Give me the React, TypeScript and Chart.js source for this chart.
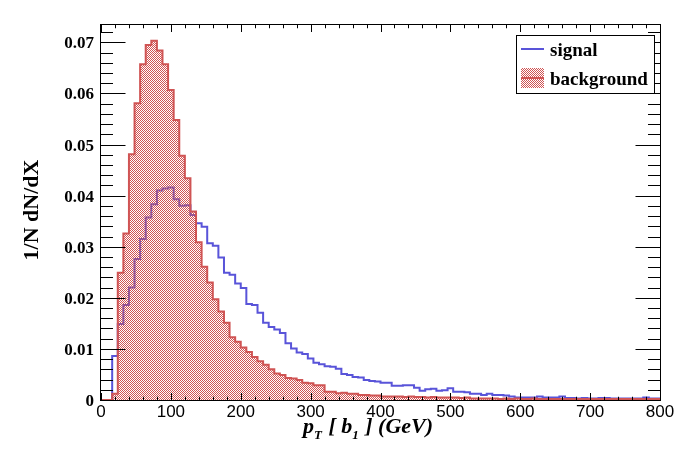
import { useEffect, useRef } from "react";
import { Chart, registerables } from "chart.js";

Chart.register(...registerables);

// ---- data ----
const binEdges = [
  0, 8, 16, 24, 32, 40, 48, 56, 64, 72, 80, 88, 96, 104, 112, 120, 128, 136, 144, 152,
  160, 168, 176, 184, 192, 200, 208, 216, 224, 232, 240, 248, 256, 264, 272, 280, 288, 296, 304, 312,
  320, 328, 336, 344, 352, 360, 368, 376, 384, 392, 400, 408, 416, 424, 432, 440, 448, 456, 464, 472,
  480, 488, 496, 504, 512, 520, 528, 536, 544, 552, 560, 568, 576, 584, 592, 600, 608, 616, 624, 632,
  640, 648, 656, 664, 672, 680, 688, 696, 704, 712, 720, 728, 736, 744, 752, 760, 768, 776, 784, 792,
  800,
];

const signalValues = [
  0, 0, 0.0086, 0.0149, 0.0186, 0.022, 0.0276, 0.0315, 0.0357, 0.0383,
  0.041, 0.0414, 0.0416, 0.0393, 0.038, 0.0381, 0.0362, 0.0346, 0.0339, 0.0307,
  0.0302, 0.0279, 0.0249, 0.0245, 0.0228, 0.0219, 0.0188, 0.0186, 0.0171, 0.0151,
  0.0143, 0.0138, 0.0131, 0.0111, 0.0101, 0.0093, 0.009, 0.0081, 0.0073, 0.007,
  0.0066, 0.0065, 0.0061, 0.0051, 0.0049, 0.0045, 0.0044, 0.0039, 0.0037, 0.0036,
  0.0034, 0.0034, 0.0028, 0.0028, 0.0029, 0.0029, 0.0024, 0.0018, 0.0021, 0.0022,
  0.0018, 0.0019, 0.0023, 0.0016, 0.0016, 0.0015, 0.0012, 0.0012, 0.001, 0.0012,
  0.001, 0.001, 0.0009, 0.0007, 0.0005, 0.0005, 0.0005, 0.0005, 0.0007, 0.0005,
  0.0005, 0.0005, 0.0007, 0.0004, 0.0004, 0.0003, 0.0004, 0.0003, 0.0003, 0.0004,
  0.0004, 0.0003, 0.0003, 0.0003, 0.0003, 0.0003, 0.0003, 0.0005, 0.0003, 0.0003,
];

const backgroundValues = [
  0, 0, 0.0012, 0.0249, 0.0326, 0.0481, 0.0581, 0.0657, 0.0695, 0.0703,
  0.0684, 0.0657, 0.0607, 0.0548, 0.0478, 0.0434, 0.0369, 0.0309, 0.0261, 0.023,
  0.0197, 0.0173, 0.0151, 0.0123, 0.0114, 0.0103, 0.0094, 0.0084, 0.0076, 0.0069,
  0.006, 0.0052, 0.0049, 0.0043, 0.0042, 0.0039, 0.0034, 0.0033, 0.0029, 0.0029,
  0.0016, 0.0016, 0.0013, 0.0014, 0.0012, 0.0012, 0.001, 0.001, 0.0009, 0.0009,
  0.0007, 0.0007, 0.0007, 0.0007, 0.0006, 0.0007, 0.0006, 0.0006, 0.0005, 0.0006,
  0.0005, 0.0005, 0.0005, 0.0005, 0.0004, 0.0005, 0.0003, 0.0003, 0.0003, 0.0003,
  0.0003, 0.0002, 0.0003, 0.0002, 0.0003, 0.0002, 0.0002, 0.0003, 0.0002, 0.0002,
  0.0002, 0.0002, 0.0002, 0.0002, 0.0002, 0.0002, 0.0002, 0.0002, 0.0002, 0.0002,
  0.0002, 0.0002, 0.0002, 0.0002, 0.0002, 0.0002, 0.0002, 0.0002, 0.0002, 0.0002,
];

const seriesNames = ["signal", "background"];

const xTickValues = [0, 100, 200, 300, 400, 500, 600, 700, 800];
const xTickLabels = ["0", "100", "200", "300", "400", "500", "600", "700", "800"];
const yTickValues = [0, 0.01, 0.02, 0.03, 0.04, 0.05, 0.06, 0.07];
const yTickLabels = ["0", "0.01", "0.02", "0.03", "0.04", "0.05", "0.06", "0.07"];

const yAxisTitle = "1/N dN/dX";
const xTitleParts = [
  { text: "p", sub: false },
  { text: "T", sub: true },
  { text: " [ b", sub: false },
  { text: "1", sub: true },
  { text: " ] (GeV)", sub: false },
];

const X_MIN = 0;
const X_MAX = 800;
const Y_MIN = 0;
const Y_MAX = 0.0736;
const X_MINOR = 20;
const X_MAJOR = 100;
const Y_MINOR = 0.002;
const Y_MAJOR = 0.01;

// ---- styles ----
const BLUE = "rgb(89,84,217)";
const RED = "rgb(208,84,84)";

function histPoints(values: number[]) {
  const pts = values.map((v, i) => ({ x: binEdges[i], y: v }));
  const n = values.length;
  pts.push({ x: binEdges[n], y: values[n - 1] });
  pts.push({ x: binEdges[n], y: 0 });
  return pts;
}

function makePattern(ctx: CanvasRenderingContext2D) {
  const c = document.createElement("canvas");
  c.width = 2;
  c.height = 2;
  const g = c.getContext("2d")!;
  g.fillStyle = RED;
  g.fillRect(0, 0, 1, 1);
  g.fillRect(1, 1, 1, 1);
  return ctx.createPattern(c, "repeat")!;
}

export default function App() {
  const ref = useRef<HTMLCanvasElement | null>(null);

  useEffect(() => {
    const canvas = ref.current!;
    const ctx0 = canvas.getContext("2d")!;
    const pattern = makePattern(ctx0);

    const axesPlugin = {
      id: "rootAxes",
      afterDraw(chart: any) {
        const { ctx, chartArea: a } = chart;
        const xs = chart.scales.x;
        const ys = chart.scales.y;
        const L = Math.round(a.left) - 0.5;
        const R = Math.round(a.right) + 0.5;
        const T = Math.round(a.top) + 0.5;
        const B = Math.round(a.bottom) + 0.5;
        ctx.save();
        ctx.strokeStyle = "#000";
        ctx.lineWidth = 1;
        ctx.strokeRect(L, T, R - L, B - T);

        ctx.beginPath();
        const nx = Math.round((X_MAX - X_MIN) / X_MINOR);
        for (let k = 0; k <= nx; k++) {
          const v = X_MIN + k * X_MINOR;
          const major = Math.abs(v / X_MAJOR - Math.round(v / X_MAJOR)) < 1e-6;
          const len = major ? 7.5 : 3.75;
          const px = Math.round(xs.getPixelForValue(v)) + 0.5;
          ctx.moveTo(px, B);
          ctx.lineTo(px, B - len);
          ctx.moveTo(px, T);
          ctx.lineTo(px, T + len);
        }
        const ny = Math.floor((Y_MAX - Y_MIN) / Y_MINOR + 1e-6);
        for (let k = 0; k <= ny; k++) {
          const v = Y_MIN + k * Y_MINOR;
          const major = k % Math.round(Y_MAJOR / Y_MINOR) === 0;
          const len = major ? 25 : 12.5;
          const py = Math.round(ys.getPixelForValue(v)) + 0.5;
          ctx.moveTo(L, py);
          ctx.lineTo(L + len, py);
          ctx.moveTo(R, py);
          ctx.lineTo(R - len, py);
        }
        ctx.stroke();

        // tick labels
        ctx.fillStyle = "#000";
        ctx.textBaseline = "alphabetic";
        ctx.font = '17px "Liberation Sans", Arial, sans-serif';
        ctx.textAlign = "center";
        xTickValues.forEach((v, i) => {
          ctx.fillText(xTickLabels[i], xs.getPixelForValue(v), a.bottom + 17);
        });
        ctx.font = 'bold 17px "Liberation Serif", "Times New Roman", serif';
        ctx.textAlign = "right";
        yTickValues.forEach((v, i) => {
          ctx.fillText(yTickLabels[i], a.left - 7, ys.getPixelForValue(v) + 6);
        });

        // y title
        ctx.save();
        ctx.translate(38, 210);
        ctx.rotate(-Math.PI / 2);
        ctx.font = 'bold 22px "Liberation Serif", "Times New Roman", serif';
        ctx.textAlign = "center";
        ctx.fillText(yAxisTitle, 0, 0);
        ctx.restore();

        // x title
        ctx.textAlign = "left";
        let tx = 303;
        xTitleParts.forEach((p) => {
          ctx.font = p.sub
            ? 'bold italic 13px "Liberation Serif", "Times New Roman", serif'
            : 'bold italic 22px "Liberation Serif", "Times New Roman", serif';
          ctx.fillText(p.text, tx, p.sub ? 439 : 433);
          tx += ctx.measureText(p.text).width + (p.sub ? 1 : 0);
        });

        // legend
        const lx = 516, ly = 35, lw = 138, lh = 58;
        ctx.fillStyle = "#fff";
        ctx.fillRect(lx, ly, lw, lh);
        ctx.strokeStyle = "#000";
        ctx.lineWidth = 1;
        ctx.strokeRect(lx + 0.5, ly + 0.5, lw, lh);

        ctx.beginPath();
        ctx.strokeStyle = BLUE;
        ctx.lineWidth = 2;
        ctx.moveTo(521, 49);
        ctx.lineTo(544, 49);
        ctx.stroke();

        ctx.fillStyle = pattern;
        ctx.fillRect(521, 68, 23, 20);
        ctx.beginPath();
        ctx.strokeStyle = RED;
        ctx.lineWidth = 2;
        ctx.moveTo(521, 78);
        ctx.lineTo(544, 78);
        ctx.stroke();

        ctx.fillStyle = "#000";
        ctx.font = 'bold 19px "Liberation Serif", "Times New Roman", serif';
        ctx.textAlign = "left";
        ctx.fillText(seriesNames[0], 550, 55.5);
        ctx.fillText(seriesNames[1], 550, 85);
        ctx.restore();
      },
    };

    const chart = new Chart(canvas, {
      type: "line",
      data: {
        datasets: [
          {
            label: seriesNames[0],
            data: histPoints(signalValues),
            borderColor: BLUE,
            borderWidth: 2,
            stepped: true,
            fill: false,
            pointRadius: 0,
            order: 2,
            borderJoinStyle: "miter",
          } as any,
          {
            label: seriesNames[1],
            data: histPoints(backgroundValues),
            borderColor: RED,
            backgroundColor: pattern,
            borderWidth: 2,
            stepped: true,
            fill: "origin",
            pointRadius: 0,
            order: 1,
            borderJoinStyle: "miter",
          } as any,
        ],
      },
      options: {
        responsive: true,
        maintainAspectRatio: false,
        animation: false,
        events: [],
        layout: { padding: { left: 101, right: 37, top: 24, bottom: 71 } },
        scales: {
          x: { type: "linear", min: X_MIN, max: X_MAX, display: false },
          y: { type: "linear", min: Y_MIN, max: Y_MAX, display: false },
        },
        plugins: {
          legend: { display: false },
          tooltip: { enabled: false },
        },
      },
      plugins: [axesPlugin],
    });

    return () => chart.destroy();
  }, []);

  return (
    <div
      style={{
        position: "fixed",
        left: 0,
        top: 0,
        width: 697,
        height: 471,
        background: "#fff",
      }}
    >
      <canvas ref={ref} />
    </div>
  );
}
